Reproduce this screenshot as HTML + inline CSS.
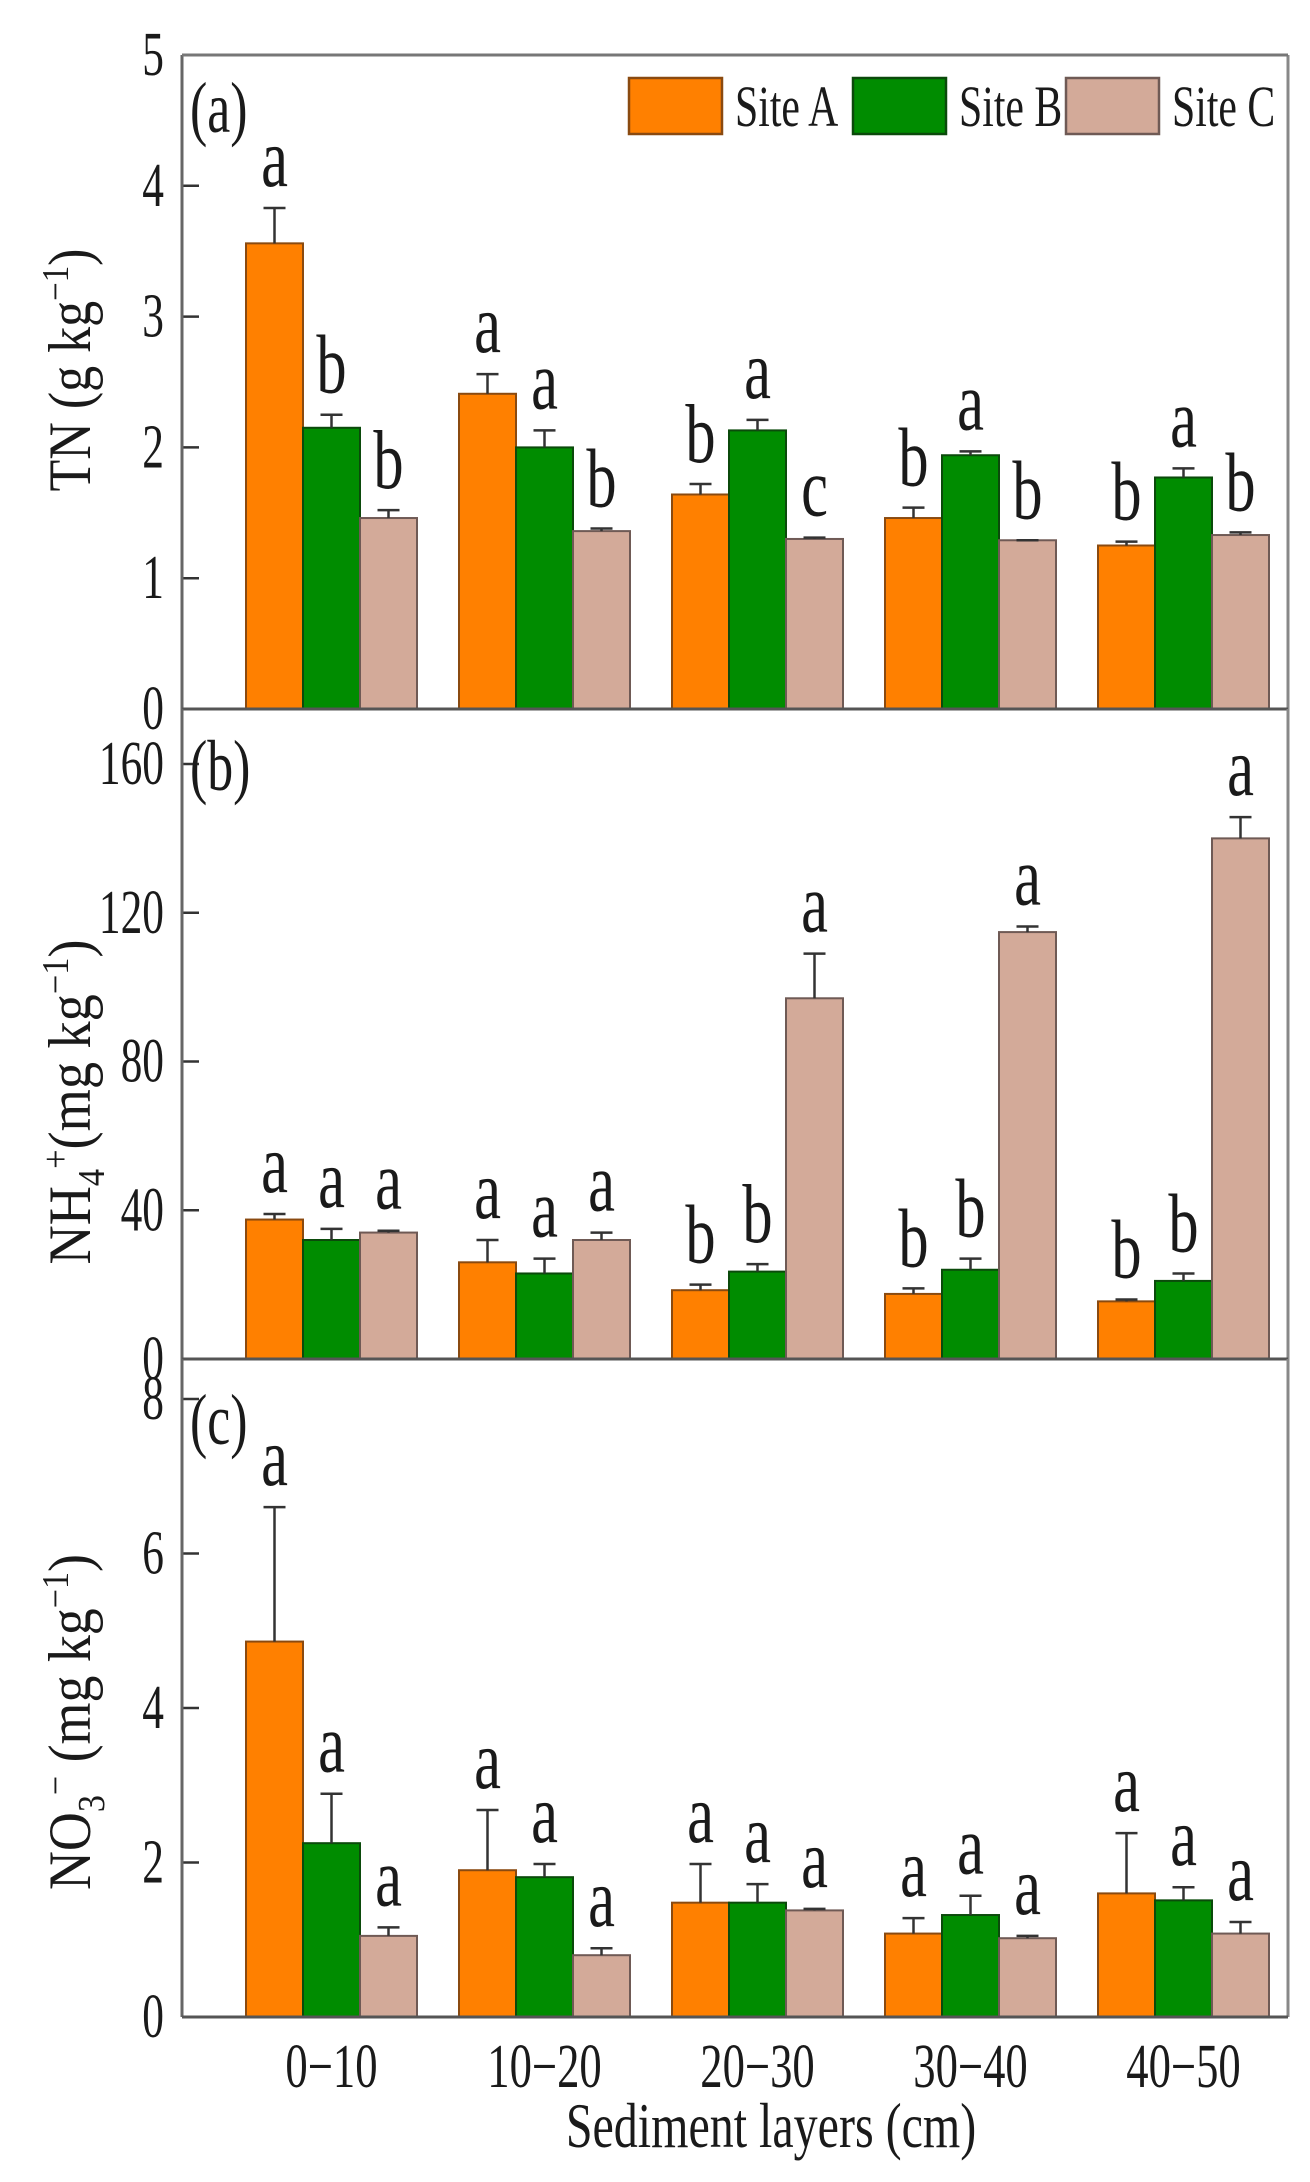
<!DOCTYPE html>
<html><head><meta charset="utf-8"><style>
html,body{margin:0;padding:0;background:#fff;}
svg{display:block;font-family:"Liberation Serif",serif;}
</style></head><body>
<svg id="chart" width="1310" height="2182" viewBox="0 0 1310 2182" xmlns="http://www.w3.org/2000/svg"></svg>
<script>
const categories = ["0\u221210","10\u221220","20\u221230","30\u221240","40\u221250"];
const seriesNames = ["Site A","Site B","Site C"];
// Panel (a) TN
const tnA = [3.56,2.41,1.64,1.46,1.25];
const tnB = [2.15,2.00,2.13,1.94,1.77];
const tnC = [1.46,1.36,1.30,1.29,1.33];
const tnErrA = [0.27,0.15,0.08,0.08,0.03];
const tnErrB = [0.10,0.13,0.08,0.03,0.07];
const tnErrC = [0.06,0.02,0.01,0.0,0.02];
const tnLetA = ["a","a","b","b","b"];
const tnLetB = ["b","a","a","a","a"];
const tnLetC = ["b","b","c","b","b"];
const tnTicks = [0,1,2,3,4,5];
// Panel (b) NH4+
const nhA = [37.5,26,18.5,17.5,15.5];
const nhB = [32,23,23.5,24,21];
const nhC = [34,32,97,114.8,140];
const nhErrA = [1.5,6,1.5,1.5,0.5];
const nhErrB = [3,4,2,3,2];
const nhErrC = [0.5,2,12,1.5,5.7];
const nhLetA = ["a","a","b","b","b"];
const nhLetB = ["a","a","b","b","b"];
const nhLetC = ["a","a","a","a","a"];
const nhTicks = [0,40,80,120,160];
// Panel (c) NO3-
const noA = [4.86,1.90,1.48,1.08,1.60];
const noB = [2.25,1.81,1.48,1.32,1.51];
const noC = [1.05,0.80,1.38,1.02,1.08];
const noErrA = [1.74,0.78,0.50,0.20,0.78];
const noErrB = [0.64,0.17,0.24,0.25,0.17];
const noErrC = [0.11,0.09,0.02,0.03,0.15];
const noLetA = ["a","a","a","a","a"];
const noLetB = ["a","a","a","a","a"];
const noLetC = ["a","a","a","a","a"];
const noTicks = [0,2,4,6,8];

const NS="http://www.w3.org/2000/svg";
const svg=document.getElementById('chart');
const colors=["#ff8000","#008c00","#d3aa99"];
const strokes=["#8a4a10","#0b4a0b","#6f5a55"];
const axL=182, axR=1288;
function el(t,a,p){const e=document.createElementNS(NS,t);for(const k in a)e.setAttribute(k,a[k]);(p||svg).appendChild(e);return e;}
function xBar(gi,si){return 246+gi*213+si*57;}
const barW=57;
function txt(x,y,s,size,anchor,sx){const t=el('text',{x:0,y:0,'font-size':size,'text-anchor':anchor||'middle',fill:'#1a1a1a',transform:`translate(${x},${y}) scale(${sx||0.78},1)`});t.textContent=s;return t;}

const panels=[
 {key:'tn',top:55,bottom:709,y0:709,vTop:5,yTopPx:55,ticks:tnTicks,vals:[tnA,tnB,tnC],errs:[tnErrA,tnErrB,tnErrC],lets:[tnLetA,tnLetB,tnLetC],label:'(a)',lblY:132},
 {key:'nh',top:709,bottom:1359,y0:1359,vTop:160,yTopPx:764,ticks:nhTicks,vals:[nhA,nhB,nhC],errs:[nhErrA,nhErrB,nhErrC],lets:[nhLetA,nhLetB,nhLetC],label:'(b)',lblY:790},
 {key:'no',top:1359,bottom:2017,y0:2017,vTop:8,yTopPx:1399,ticks:noTicks,vals:[noA,noB,noC],errs:[noErrA,noErrB,noErrC],lets:[noLetA,noLetB,noLetC],label:'(c)',lblY:1444}
];

panels.forEach(p=>{
  const g=el('g',{});
  
  
  const yS=v=>p.y0-(v/p.vTop)*(p.y0-p.yTopPx);
  for(let si=0;si<3;si++){
    for(let gi=0;gi<categories.length;gi++){
      const v=p.vals[si][gi], e=p.errs[si][gi];
      const x=xBar(gi,si), y=yS(v);
      const r=el('rect',{x:x,y:y,width:barW,height:p.y0-y,fill:colors[si],stroke:strokes[si],'stroke-width':2},g);
      
      
      const cx=x+barW/2, ye=yS(v+e);
      const eb=el('path',{d:`M${cx},${y} V${ye} M${cx-11},${ye} H${cx+11}`,stroke:'#333','stroke-width':2.5,fill:'none'},g);
      
      
      const lt=txt(cx,ye-22,p.lets[si][gi],84,'middle',0.72);
      g.appendChild(lt);
      
      
    }
  }
  p.ticks.forEach(t=>{
    const y=yS(t);
    el('line',{x1:axL,y1:y,x2:axL+17,y2:y,stroke:'#333','stroke-width':2.5},g);
    const tl=txt(164,y+20,String(t),62,'end',0.7);
    g.appendChild(tl);
    
    
  });
  el('line',{x1:axL,y1:p.top,x2:axL,y2:p.bottom,stroke:'#666','stroke-width':3},g);
  el('line',{x1:axR,y1:p.top,x2:axR,y2:p.bottom,stroke:'#888','stroke-width':3},g);
  el('line',{x1:axL,y1:p.bottom,x2:axR,y2:p.bottom,stroke:'#555','stroke-width':3},g);
  if(p.key==='tn') el('line',{x1:axL,y1:p.top,x2:axR,y2:p.top,stroke:'#777','stroke-width':3},g);
  const pl=txt(190,p.lblY,p.label,72,'start',0.72);
  g.appendChild(pl);
  
  
});

// y titles: parts = [text, dy, small?]
function ytitle(cy,len,parts,name){
  const t=el('text',{x:0,y:0,'font-size':60,'text-anchor':'middle',fill:'#1a1a1a',transform:`translate(90,${cy}) rotate(-90)`,textLength:len,lengthAdjust:'spacingAndGlyphs'});
  
  
  parts.forEach(pp=>{const s=el('tspan',{},t);s.textContent=pp[0];if(pp[1])s.setAttribute('dy',pp[1]);if(pp[2])s.setAttribute('font-size',38);});
}
ytitle(370,243,[["TN (g kg"],["\u2212","-22",1],["1",0,1],[")","22"]],'y-axis-title-tn');
ytitle(1102,325,[["NH"],["4","14",1],["+","-36",1],["(mg kg","22"],["\u2212","-22",1],["1",0,1],[")","22"]],'y-axis-title-nh4');
ytitle(1722,336,[["NO"],["3","14",1],["\u2212","-36",1],[" (mg kg","22"],["\u2212","-22",1],["1",0,1],[")","22"]],'y-axis-title-no3');

categories.forEach((c,gi)=>{
  const t=txt(xBar(gi,0)+barW*1.5,2087,c,62,'middle',0.72);
  
  
});
const xt=txt(771,2147,'Sediment layers (cm)',64,'middle',0.75);



const legX=[629,853,1066];
seriesNames.forEach((n,i)=>{
  const r=el('rect',{x:legX[i],y:78,width:93,height:56,fill:colors[i],stroke:strokes[i],'stroke-width':2.5});
  
  
  const t=txt(legX[i]+106,126,n,58,'start',0.72);
  
  
});
</script>
</body></html>
